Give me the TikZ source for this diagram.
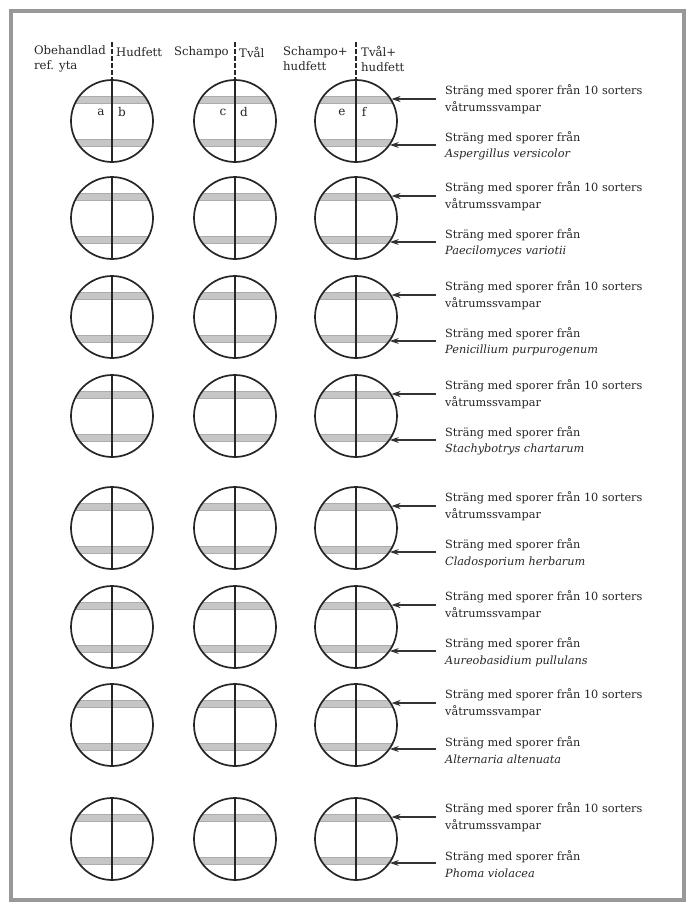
\documentclass[tikz,border=0pt]{standalone}
\usepackage{fontspec}
\setmainfont{DejaVu Serif}
\usetikzlibrary{arrows.meta}
\tikzset{
  ring/.style={circle, draw=black!85, line width=1.7pt, minimum size=82pt, inner sep=0pt},
  band/.style={fill=gray!45, draw=gray!65, line width=0.4pt},
  axis/.style={draw=black!85, line width=1.3pt},
  headaxis/.style={draw=black!85, line width=1.1pt, dash pattern=on 5pt off 2pt},
  arr/.style={draw=black!80, line width=1.2pt, -{Stealth[length=9pt,width=6pt]}},
  lab/.style={inner sep=0pt, align=left, text=black!85, font=\fontsize{11.3}{16.5}\selectfont},
  head/.style={inner sep=0pt, align=left, text=black!85, font=\fontsize{11.7}{15}\selectfont},
  letter/.style={inner sep=0pt, text=black!85, font=\fontsize{12}{14}\selectfont},
  frame/.style={draw=gray!85!black!70, line width=4.5pt}
}
\begin{document}
\begin{tikzpicture}[x=1pt,y=-1pt]
\useasboundingbox (0,0) rectangle (693,908);
\fill[white] (0,0) rectangle (693,908);
\draw[frame] (11,11) rectangle (684,900);

% headers
\node[head, anchor=east] (h1) at (106,59) {Obehandlad\\ref. yta};
\node[head, anchor=west] (h2) at (116,52) {Hudfett};
\node[head, anchor=east] (h3) at (229,52) {Schampo};
\node[head, anchor=west] (h4) at (239,52) {Tvål};
\node[head, anchor=west] (h5) at (283,59) {Schampo+\\hudfett};
\node[head, anchor=west] (h6) at (361,59) {Tvål+\\hudfett};

\foreach \r/\cy/\sp in {1/121/Aspergillus versicolor,2/218/Paecilomyces variotii,3/317/Penicillium purpurogenum,4/416/Stachybotrys chartarum,5/528/Cladosporium herbarum,6/627/Aureobasidium pullulans,7/725/Alternaria altenuata,8/839/Phoma violacea}{
  \foreach \c/\cx in {1/112,2/235,3/356}{
    \begin{scope}
      \clip (\cx,\cy) circle (41pt);
      \path[band] (\cx-45,\cy-25) rectangle (\cx+45,\cy-18);
      \path[band] (\cx-45,\cy+18) rectangle (\cx+45,\cy+25);
    \end{scope}
    \node[ring] (c\r-\c) at (\cx,\cy) {};
    \draw[axis] (c\r-\c.north) -- (c\r-\c.south);
  }
  \coordinate (p\r-1) at (436,\cy-22);
  \coordinate (p\r-2) at (436,\cy+24);
  \draw[arr] (p\r-1) -- (c\r-3.32 |- p\r-1);
  \draw[arr] (p\r-2) -- (c\r-3.-36 |- p\r-2);
  \node[lab, anchor=west] (t\r-1) at (445,\cy-22) {Sträng med sporer från 10 sorters\\våtrumssvampar};
  \node[lab, anchor=west] (t\r-2) at (445,\cy+25) {Sträng med sporer från\\\textit{\sp}};
}

% dashed header dividers
\coordinate (d1) at (112,42);
\coordinate (d2) at (235,42);
\coordinate (d3) at (356,42);
\draw[headaxis] (d1) -- (c1-1.north);
\draw[headaxis] (d2) -- (c1-2.north);
\draw[headaxis] (d3) -- (c1-3.north);

% letters
\node[letter] (la) at (101,112) {a};
\node[letter] (lb) at (122,112) {b};
\node[letter] (lc) at (223,112) {c};
\node[letter] (ld) at (244,112) {d};
\node[letter] (le) at (342,112) {e};
\node[letter] (lf) at (364,112) {f};
\end{tikzpicture}
\end{document}
